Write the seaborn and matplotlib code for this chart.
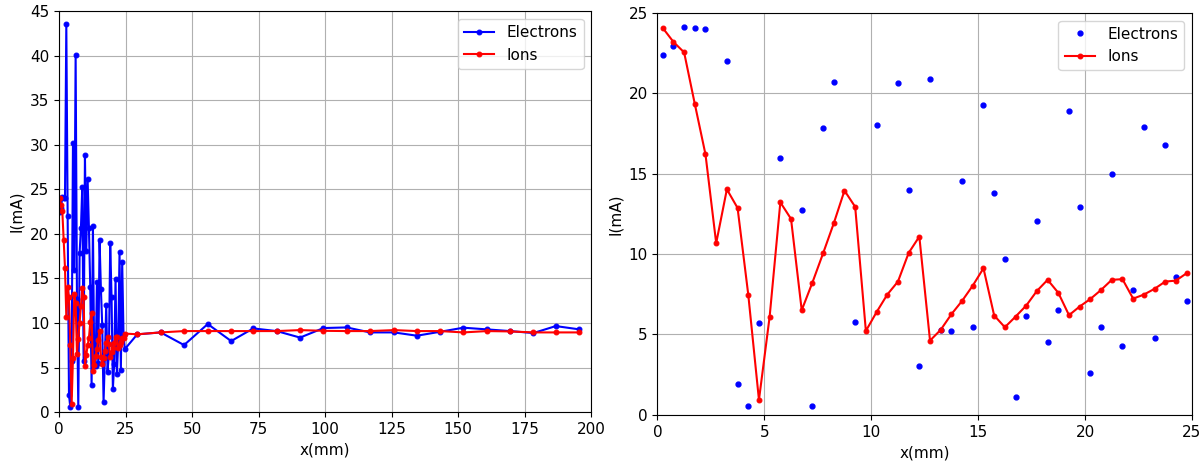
import numpy as np
import pandas as pd
import matplotlib
matplotlib.use('Agg')
import matplotlib.pyplot as plt
import seaborn as sns

plt.rcParams['font.size'] = 11

# positions of the measurements (mm): fine scan 0.25..24.75 then coarse scan
x_fine = [0.25, 0.75, 1.25, 1.75, 2.25, 2.75, 3.25, 3.75, 4.25, 4.75,
          5.25, 5.75, 6.25, 6.75, 7.25, 7.75, 8.25, 8.75, 9.25, 9.75,
          10.25, 10.75, 11.25, 11.75, 12.25, 12.75, 13.25, 13.75, 14.25, 14.75,
          15.25, 15.75, 16.25, 16.75, 17.25, 17.75, 18.25, 18.75, 19.25, 19.75,
          20.25, 20.75, 21.25, 21.75, 22.25, 22.75, 23.25, 23.75, 24.25, 24.75]
x_coarse = [29.4, 38.2, 47.0, 55.9, 64.7, 73.0, 81.8, 90.6, 99.4, 108.1,
            116.9, 125.9, 134.5, 143.2, 152.0, 160.8, 169.5, 178.3, 186.7, 195.6]

# electron current (mA)
electrons_fine = [22.4, 22.95, 24.1, 24.05, 23.98, 43.5, 22.0, 1.95, 0.52, 5.70,
                  30.15, 16.0, 40.1, 12.73, 0.52, 17.85, 20.71, 25.3, 5.76, 28.8,
                  18.03, 26.2, 20.62, 14.01, 3.05, 20.92, 5.29, 5.22, 14.55, 5.49,
                  19.26, 13.82, 9.72, 1.14, 6.18, 12.04, 4.54, 6.53, 18.92, 12.94,
                  2.63, 5.45, 14.99, 4.29, 7.75, 17.91, 4.75, 16.81, 8.60, 7.07]
electrons_coarse = [8.72, 8.94, 7.52, 9.88, 7.97, 9.39, 9.09, 8.36, 9.43, 9.50,
                    8.94, 8.94, 8.57, 9.01, 9.47, 9.28, 9.09, 8.87, 9.65, 9.28]

# ion current (mA)
ions_fine = [24.07, 23.2, 22.55, 19.34, 16.2, 10.68, 14.03, 12.87, 7.48, 0.93,
             6.11, 13.22, 12.19, 6.51, 8.23, 10.05, 11.92, 13.95, 12.94, 5.22,
             6.39, 7.48, 8.29, 10.07, 11.09, 4.62, 5.29, 6.26, 7.09, 8.04,
             9.12, 6.18, 5.45, 6.11, 6.80, 7.71, 8.40, 7.59, 6.20, 6.74,
             7.21, 7.77, 8.40, 8.44, 7.23, 7.48, 7.84, 8.29, 8.35, 8.81]
ions_coarse = [8.73, 8.94, 9.09, 9.09, 9.09, 9.09, 9.09, 9.2, 9.12, 9.09,
               9.09, 9.2, 9.09, 9.09, 8.94, 9.09, 9.05, 8.94, 8.94, 8.94]

full = pd.DataFrame({'x': x_fine + x_coarse,
                     'electrons': electrons_fine + electrons_coarse,
                     'ions': ions_fine + ions_coarse})
fine = full[full['x'] < 25]

fig = plt.figure(figsize=(12.04, 4.63), dpi=100)
ax1 = fig.add_axes([0.049, 0.110, 0.442, 0.866])
ax2 = fig.add_axes([0.546, 0.104, 0.444, 0.868])

# left: whole scan
sns.lineplot(data=full, x='x', y='electrons', ax=ax1, color='b', marker='.',
             markersize=7, markeredgecolor='b', sort=False, label='Electrons')
sns.lineplot(data=full, x='x', y='ions', ax=ax1, color='r', marker='.',
             markersize=7, markeredgecolor='r', sort=False, label='Ions')
ax1.set_xlim(0, 200)
ax1.set_ylim(0, 45)

# right: zoom on the first 25 mm
ax2.plot(fine['x'], fine['electrons'], 'b.', markersize=7, label='Electrons')
sns.lineplot(data=fine, x='x', y='ions', ax=ax2, color='r', marker='.',
             markersize=7, markeredgecolor='r', sort=False, label='Ions')
ax2.set_xlim(0, 25)
ax2.set_ylim(0, 25)

for ax in (ax1, ax2):
    ax.grid(True, color='#b0b0b0', linewidth=0.8)
    ax.set_xlabel('x(mm)')
    ax.set_ylabel('I(mA)')
    ax.legend(loc='upper right')

fig.savefig('out.png', dpi=100)
